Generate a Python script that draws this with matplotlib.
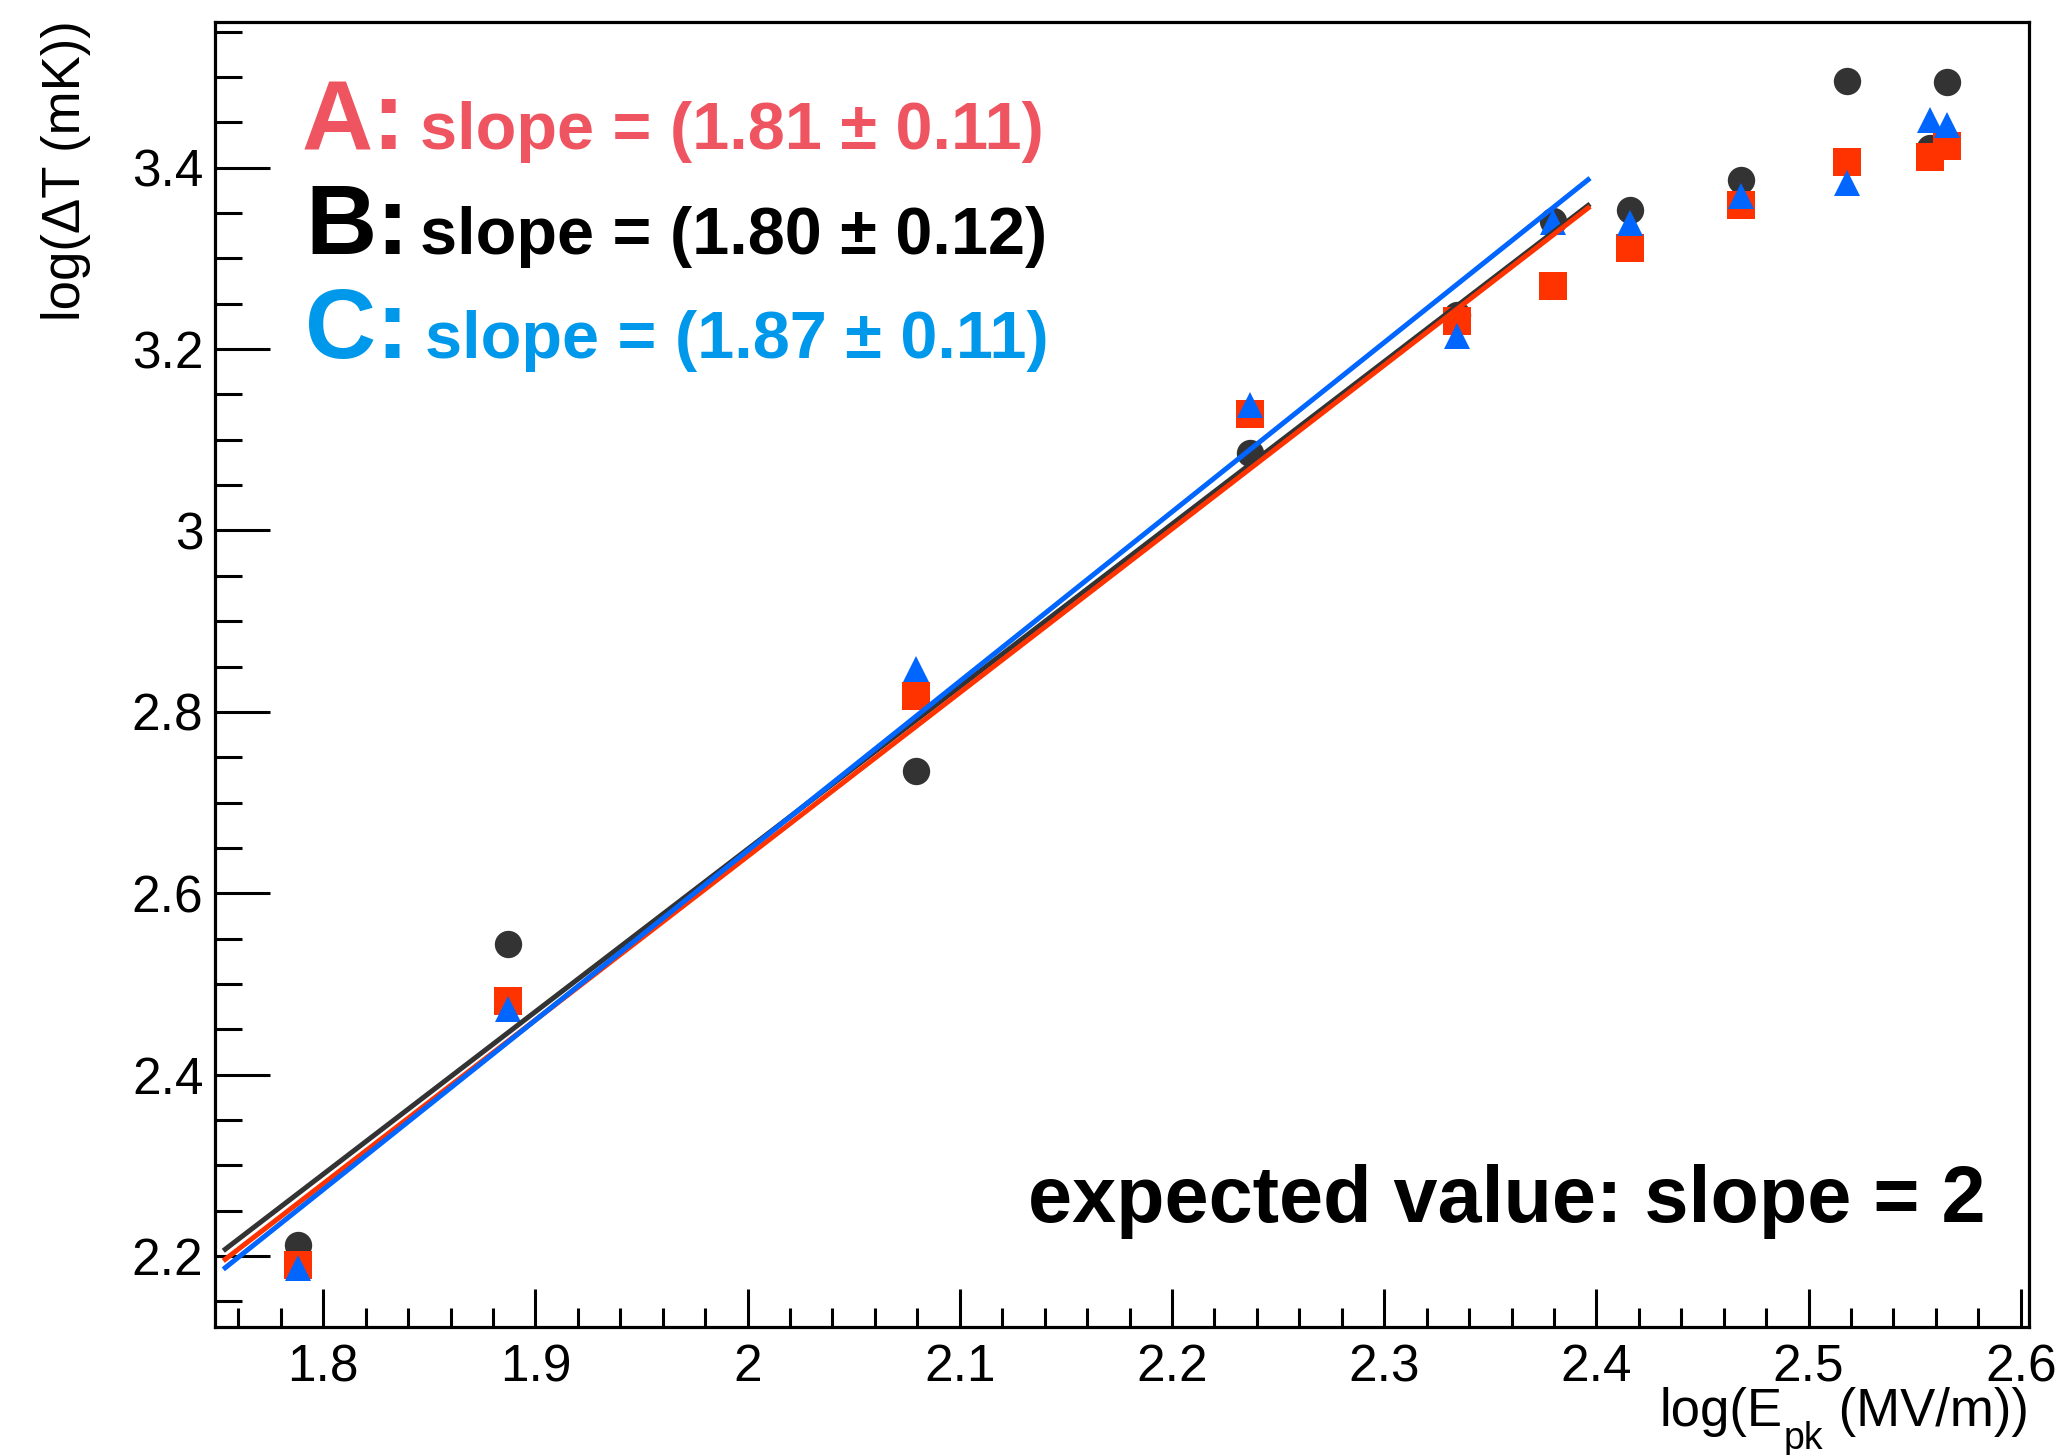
import matplotlib
matplotlib.use('Agg')
import matplotlib.pyplot as plt
from matplotlib.ticker import MultipleLocator, FuncFormatter
import numpy as np

plt.rcParams['font.family'] = ['Liberation Sans', 'DejaVu Sans']

# ---------------- data ----------------
log_epk = [1.7883, 1.8869, 2.0793, 2.2366, 2.3341, 2.3795, 2.4158, 2.4681, 2.5179, 2.5572, 2.5650]
log_dT_A = [2.1901, 2.4809, 2.8172, 3.1286, 3.2312, 3.2696, 3.3115, 3.3589, 3.4063, 3.4116, 3.4239]  # squares
log_dT_B = [2.2121, 2.5437, 2.7348, 3.0851, 3.2372, 3.3416, 3.3534, 3.3864, 3.4959, 3.4217, 3.4942]  # circles
log_dT_C = [2.1864, 2.4720, 2.8476, 3.1383, 3.2144, 3.3399, 3.3387, 3.3691, 3.3831, 3.4529, 3.4468]  # triangles

fit_range = [1.7529, 2.397]
fit_slope = {'A': 1.805, 'B': 1.792, 'C': 1.868}
fit_intercept = {'A': -0.9693, 'B': -0.9354, 'C': -1.0891}

labels_letter = ['A:', 'B:', 'C:']
labels_slope = ['slope = (1.81 \u00b1 0.11)', 'slope = (1.80 \u00b1 0.12)', 'slope = (1.87 \u00b1 0.11)']
note_text = 'expected value: slope = 2'
xlabel_parts = ['log(E', 'pk', ' (MV/m))']
ylabel_text = 'log(\u0394T (mK))'

# ---------------- styling ----------------
W, H = 2065, 1455
fig = plt.figure(figsize=(W / 100, H / 100), dpi=100)
fig.patch.set_facecolor('white')

def fx(px):
    return px / W

def fy(py):
    return 1 - py / H

ax_l, ax_r, ax_t, ax_b = 215, 2029.3, 21.7, 1327.3
ax = fig.add_axes([fx(ax_l), fy(ax_b), fx(ax_r - ax_l), (ax_b - ax_t) / H])
ax.set_xlim(1.749, 2.604)
ax.set_ylim(2.1214, 3.561)

c_gray = '#333333'
c_red = '#FF3300'
c_blue = '#0066FF'

ax.plot(log_epk, log_dT_B, linestyle='none', marker='o', markersize=19.7,
        markerfacecolor=c_gray, markeredgewidth=0, zorder=3)
ax.plot(log_epk, log_dT_A, linestyle='none', marker='s', markersize=19.9,
        markerfacecolor=c_red, markeredgewidth=0, zorder=4)
ax.plot(log_epk, log_dT_C, linestyle='none', marker='^', markersize=19.2,
        markerfacecolor=c_blue, markeredgewidth=0, zorder=5)

xf = np.array(fit_range)
for key, col, z in [('B', c_gray, 6), ('A', c_red, 7), ('C', c_blue, 8)]:
    ax.plot(xf, fit_intercept[key] + fit_slope[key] * xf, color=col, lw=3.6,
            solid_capstyle='butt', zorder=z)

for sp in ax.spines.values():
    sp.set_linewidth(2.3)
    sp.set_color('black')

ax.xaxis.set_major_locator(MultipleLocator(0.1))
ax.xaxis.set_minor_locator(MultipleLocator(0.02))
ax.yaxis.set_major_locator(MultipleLocator(0.2))
ax.yaxis.set_minor_locator(MultipleLocator(0.05))
fmt = FuncFormatter(lambda v, p: '%g' % round(v, 3))
ax.xaxis.set_major_formatter(fmt)
ax.yaxis.set_major_formatter(fmt)

ax.tick_params(axis='x', which='major', direction='in', length=27.5, width=2.2,
               top=False, labelsize=37, pad=11.5)
ax.tick_params(axis='x', which='minor', direction='in', length=13.7, width=2.2, top=False)
ax.tick_params(axis='y', which='major', direction='in', length=39.5, width=2.2,
               right=False, labelsize=37, pad=8.3)
ax.tick_params(axis='y', which='minor', direction='in', length=19.5, width=2.2, right=False)

# x axis title built from pieces (ROOT style low subscript), right-aligned at axes edge
renderer = fig.canvas.get_renderer()
main_base = 1426
sub_base = 1449
t3 = fig.text(fx(2029), fy(main_base), xlabel_parts[2], fontsize=38, ha='right', va='baseline')
bb3 = t3.get_window_extent(renderer)
t2 = fig.text(bb3.x0 / W + fx(-1), fy(sub_base), xlabel_parts[1], fontsize=27, ha='right', va='baseline')
bb2 = t2.get_window_extent(renderer)
fig.text(bb2.x0 / W + fx(-1), fy(main_base), xlabel_parts[0], fontsize=38, ha='right', va='baseline')

fig.text(fx(66), fy(20), ylabel_text, fontsize=38, rotation=90, ha='center', va='top')

# slope annotations
colors_txt = ['#EF5461', '#000000', '#0098EA']
letter_x = [302, 305, 305]
slope_x = [420, 420, 425]
baselines = [149, 254, 358]
for lt, st, cx, lx, sx, by in zip(labels_letter, labels_slope, colors_txt, letter_x, slope_x, baselines):
    fig.text(fx(lx), fy(by), lt, fontsize=71, fontweight='bold', color=cx,
             ha='left', va='baseline')
    fig.text(fx(sx), fy(by), st, fontsize=48, fontweight='bold', color=cx,
             ha='left', va='baseline')

fig.text(fx(1985), fy(1222), note_text, fontsize=57, fontweight='bold',
         color='black', ha='right', va='baseline')

fig.savefig('out.png', dpi=100, facecolor='white')
